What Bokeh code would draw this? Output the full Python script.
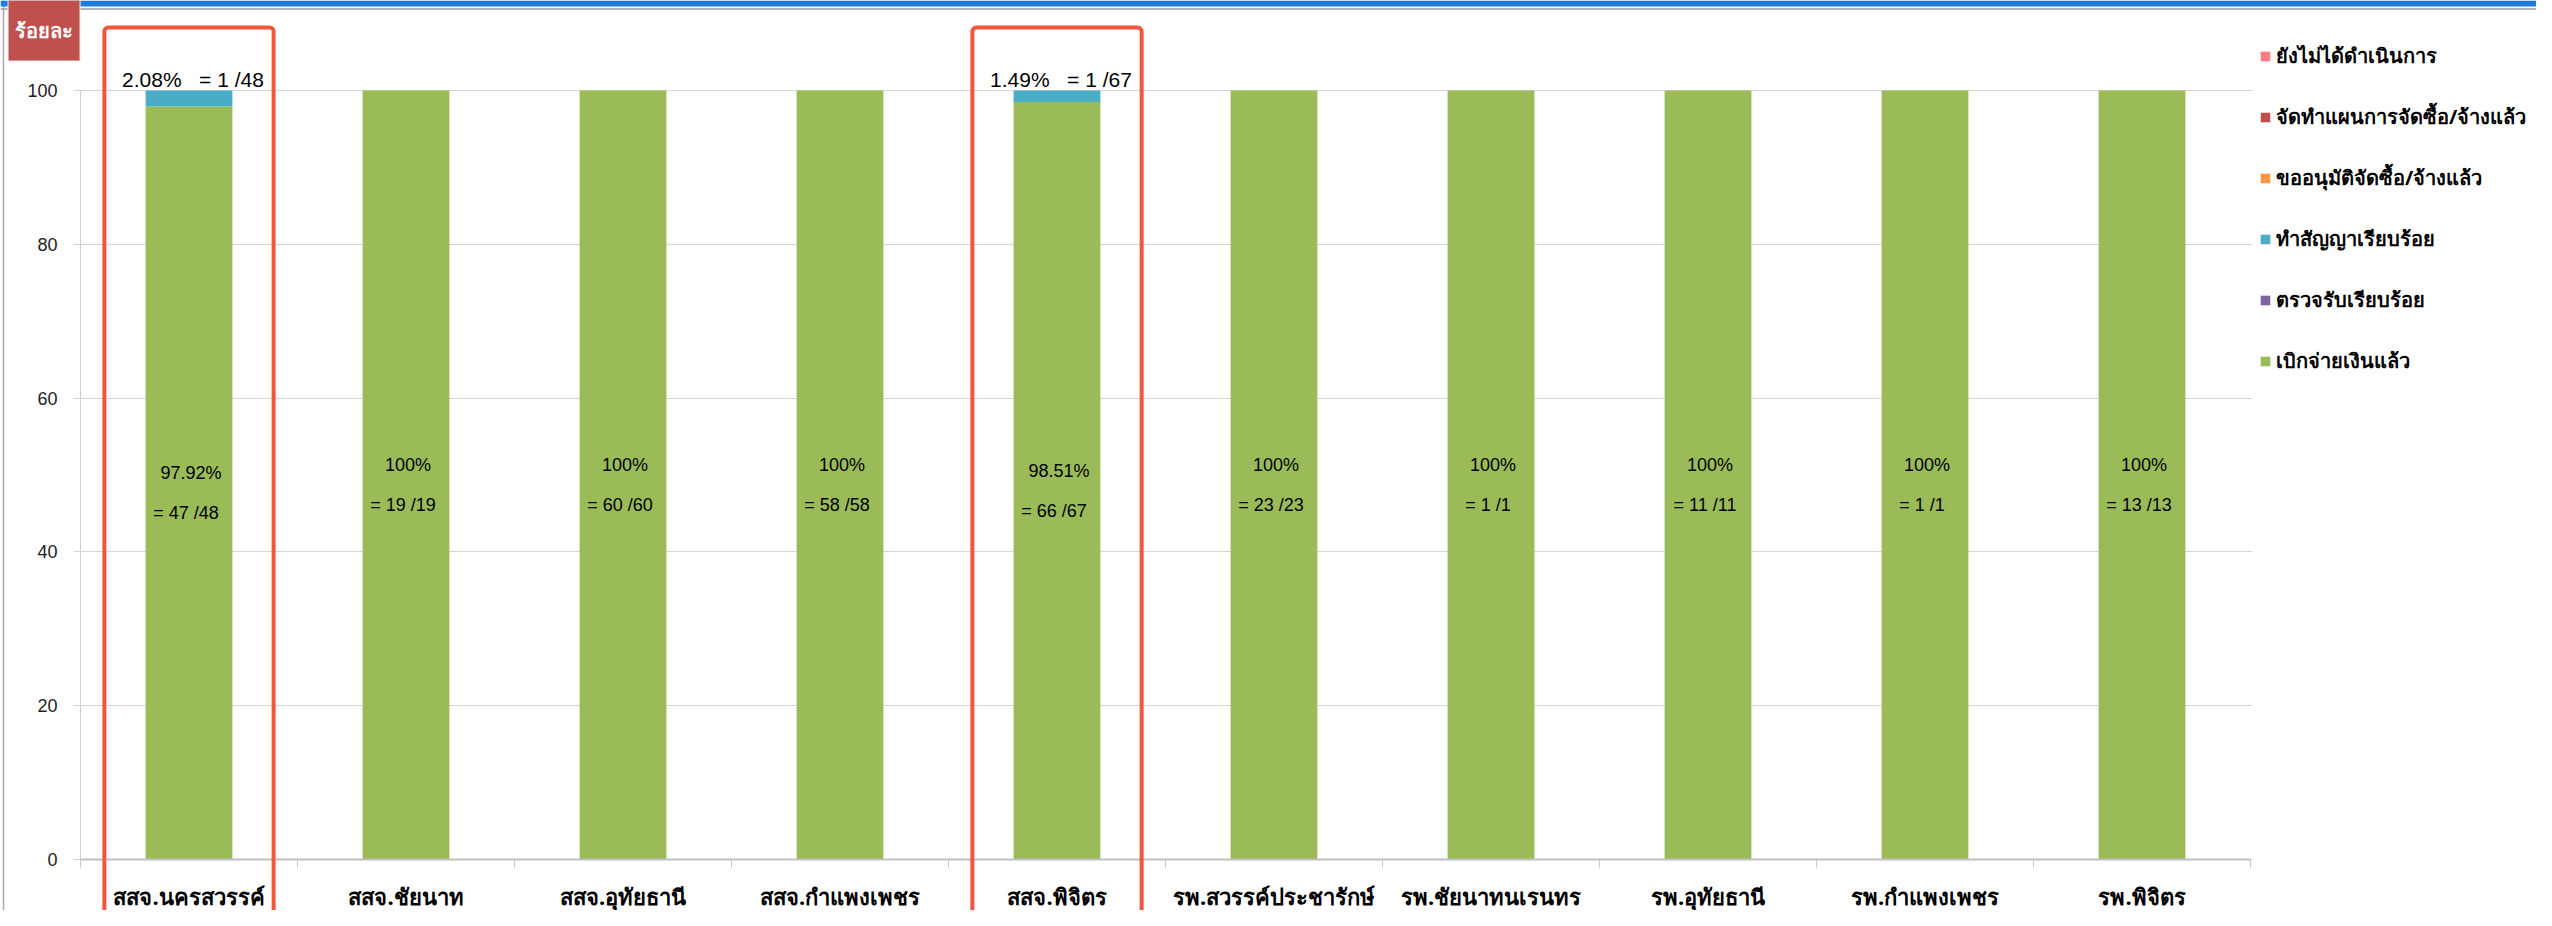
from bokeh.plotting import figure
from bokeh.models import (ColumnDataSource, Range1d, FixedTicker, Legend, LegendItem,
                          Label, BoxAnnotation, Span)
from bokeh.core.properties import value
from bokeh.embed import file_html
from bokeh.resources import INLINE

# ---------------- data ----------------
categories = ["สสจ.นครสวรรค์", "สสจ.ชัยนาท", "สสจ.อุทัยธานี", "สสจ.กำแพงเพชร", "สสจ.พิจิตร",
              "รพ.สวรรค์ประชารักษ์", "รพ.ชัยนาทนเรนทร", "รพ.อุทัยธานี", "รพ.กำแพงเพชร", "รพ.พิจิตร"]
series_names = ["ยังไม่ได้ดำเนินการ", "จัดทำแผนการจัดซื้อ/จ้างแล้ว", "ขออนุมัติจัดซื้อ/จ้างแล้ว",
                "ทำสัญญาเรียบร้อย", "ตรวจรับเรียบร้อย", "เบิกจ่ายเงินแล้ว"]
not_started = [0, 0, 0, 0, 0, 0, 0, 0, 0, 0]
planned = [0, 0, 0, 0, 0, 0, 0, 0, 0, 0]
approved = [0, 0, 0, 0, 0, 0, 0, 0, 0, 0]
contracted = [2.08, 0, 0, 0, 1.49, 0, 0, 0, 0, 0]
inspected = [0, 0, 0, 0, 0, 0, 0, 0, 0, 0]
disbursed = [97.92, 100, 100, 100, 98.51, 100, 100, 100, 100, 100]
contracted_count = [1, 0, 0, 0, 1, 0, 0, 0, 0, 0]
disbursed_count = [47, 19, 60, 58, 66, 23, 1, 11, 1, 13]
total_count = [48, 19, 60, 58, 67, 23, 1, 11, 1, 13]
highlighted = ["สสจ.นครสวรรค์", "สสจ.พิจิตร"]
y_ticks = [0, 20, 40, 60, 80, 100]
y_title = "ร้อยละ"

colors = ["#FF7C80", "#C0504D", "#F79646", "#4BACC6", "#8064A2", "#9BBB59"]

NUM_FONT = "Liberation Sans"
THAI_FONT = "Noto Sans"

# ---------------- layout constants (pixels) ----------------
W, H = 2536, 910
AX_LEFT_PX = 80          # canvas x of the y axis
CAT_PX = 217             # pixels per category
Y0_PX = 859              # canvas y of value 0
PX_PER_UNIT = 7.69       # pixels per percent
n = len(categories)

x_start = -0.5 - AX_LEFT_PX / CAT_PX
x_end = x_start + W / CAT_PX
y_end = Y0_PX / PX_PER_UNIT
y_start = -(H - Y0_PX) / PX_PER_UNIT

x_idx = list(range(n))
source = ColumnDataSource(dict(
    x=x_idx, not_started=not_started, planned=planned, approved=approved,
    contracted=contracted, inspected=inspected, disbursed=disbursed))

p = figure(width=W, height=H, output_backend="svg", toolbar_location=None,
           x_range=Range1d(x_start, x_end), y_range=Range1d(y_start, y_end),
           min_border_left=0, min_border_top=0, min_border_bottom=0, min_border_right=0)
p.outline_line_color = None
p.background_fill_color = "white"
p.border_fill_color = "white"
p.xgrid.visible = False
p.ygrid.visible = False

# window frame decoration of the original screenshot
p.add_layout(Span(location=x_start + 3 / CAT_PX, dimension="height", line_color="#a8a8a8", line_width=1.5))
p.add_layout(Span(location=y_end - 8.5 / PX_PER_UNIT, dimension="width", line_color="#9a9a9a", line_width=1.5))
p.add_layout(BoxAnnotation(top=y_end, bottom=y_end - 6 / PX_PER_UNIT, fill_color="#1F7BD8",
                           fill_alpha=1, line_color=None))

stack_keys = ["disbursed", "inspected", "contracted", "approved", "planned", "not_started"]
stack_colors = [colors[5], colors[4], colors[3], colors[2], colors[1], colors[0]]
renderers = p.vbar_stack(stack_keys, x="x", width=0.4, color=stack_colors, source=source,
                         line_color=None)
rmap = dict(zip(stack_keys, renderers))

# x axis at value 0
xa = p.xaxis[0]
xa.fixed_location = 0
xa.bounds = (-0.5, n - 0.5)
xa.ticker = FixedTicker(ticks=x_idx, minor_ticks=[i - 0.5 for i in range(n + 1)])
xa.major_label_overrides = {i: c for i, c in enumerate(categories)}
xa.major_tick_out = 0
xa.major_tick_in = 0
xa.minor_tick_out = 8
xa.minor_tick_in = 0
xa.minor_tick_line_color = "#c8c8c8"
xa.axis_line_color = "#c0c0c0"
xa.axis_line_width = 2
xa.major_label_standoff = 13
xa.major_label_text_font = THAI_FONT
xa.major_label_text_font_size = "22px"
xa.major_label_text_font_style = "bold"
xa.major_label_text_color = "black"

# y axis at the left edge of the first category; its ticks run across as grid lines
ya = p.yaxis[0]
ya.fixed_location = -0.5
ya.bounds = (0, 100)
ya.level = "underlay"
ya.ticker = FixedTicker(ticks=y_ticks)
ya.minor_tick_line_color = None
ya.major_tick_out = 7
ya.major_tick_in = n * CAT_PX + 2
ya.major_tick_line_color = "#d6d6d6"
ya.axis_line_color = "#d0d0d0"
ya.major_label_standoff = 16
ya.major_label_text_font = NUM_FONT
ya.major_label_text_font_size = "18px"
ya.major_label_text_color = "#222222"

# labels inside green bars
def pct(v):
    s = f"{v:.2f}".rstrip("0").rstrip(".")
    return s + "%"

in_src = ColumnDataSource(dict(
    x=x_idx, y=[v / 2 for v in disbursed],
    t1=[pct(v) for v in disbursed],
    t2=[f"= {a} /{b}" for a, b in zip(disbursed_count, total_count)]))
p.text(x="x", y="y", text="t1", source=in_src, text_align="center", text_baseline="middle",
       y_offset=-10, x_offset=2, text_font=value(NUM_FONT), text_font_size="18px", text_color="black")
p.text(x="x", y="y", text="t2", source=in_src, text_align="center", text_baseline="middle",
       y_offset=30, x_offset=-3, text_font=value(NUM_FONT), text_font_size="18px", text_color="black")

# labels above bars for the contracted share
NB = "\u00a0"
top_x = [i for i in x_idx if contracted[i] > 0]
top_src = ColumnDataSource(dict(
    x=top_x, y=[disbursed[i] + contracted[i] for i in top_x],
    t=[f"{pct(contracted[i])}{NB*3}= {contracted_count[i]} /{total_count[i]}" for i in top_x]))
p.text(x="x", y="y", text="t", source=top_src, text_align="center", text_baseline="middle",
       y_offset=-11, x_offset=4, text_font=value(NUM_FONT), text_font_size="21px", text_color="black")

# highlight boxes
for name in highlighted:
    i = categories.index(name)
    p.add_layout(BoxAnnotation(left=i - 0.39, right=i + 0.39, top=108.2, bottom=-12,
                               fill_alpha=0, line_color="#F4553F", line_width=4, line_alpha=1,
                               border_radius=4))

# y title box with shadow
TX, TY = -0.668, 107.8
p.add_layout(Label(x=TX, y=TY, x_offset=3, y_offset=-3, text=y_title,
                   text_align="center", text_baseline="middle", text_alpha=0,
                   text_font=THAI_FONT, text_font_style="bold", text_font_size="20px",
                   background_fill_color="#bbbbbb", background_fill_alpha=0.5, padding=(7, 17)))
p.add_layout(Label(x=TX, y=TY, text=y_title, text_align="center", text_baseline="middle",
                   text_color="white", text_font=THAI_FONT, text_font_style="bold",
                   text_font_size="20px", background_fill_color="#C0504D",
                   border_line_color="#f0f0f0", padding=(7, 17)))

# legend (drawn inside the frame, to the right of the bars)
items = [LegendItem(label=series_names[k], renderers=[rmap[key]])
         for k, key in enumerate(["not_started", "planned", "approved", "contracted", "inspected", "disbursed"])]
legend = Legend(items=items, location=(2259, 531), orientation="vertical", glyph_width=12,
                glyph_height=12, label_height=36, spacing=25, padding=0, margin=0,
                label_standoff=5, label_text_font=THAI_FONT, label_text_font_size="20px",
                label_text_font_style="bold", label_text_color="black",
                border_line_color=None, background_fill_alpha=0)
p.add_layout(legend, "center")

open("out.html", "w").write(file_html(p, INLINE))
